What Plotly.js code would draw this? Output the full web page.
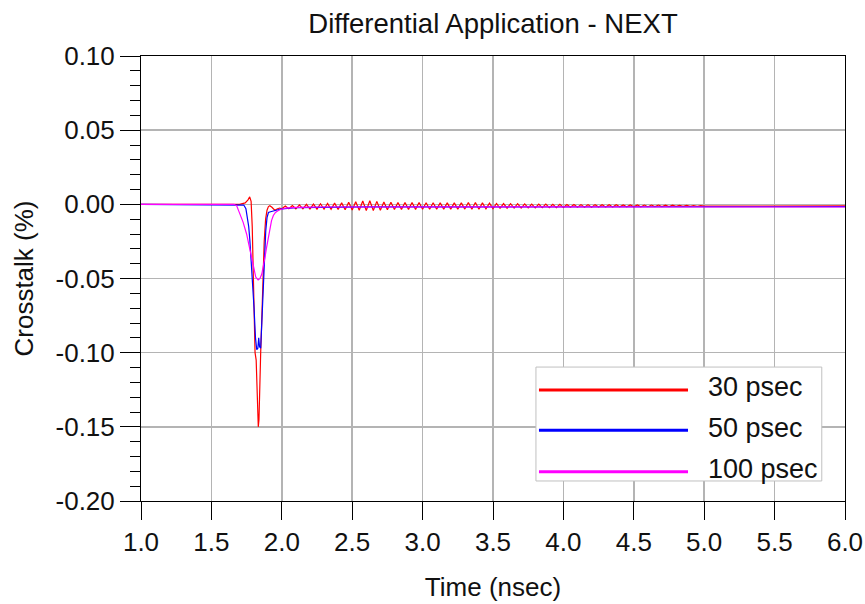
<!DOCTYPE html>
<html>
<head>
<meta charset="utf-8">
<script src="https://cdn.plot.ly/plotly-3.0.1.min.js"></script>
<style>html,body{margin:0;padding:0;background:#fff;}#chart{width:865px;height:604px;}</style>
</head>
<body>
<div id="chart"></div>
<script>
// ---- data ----
var seriesNames = ['30 psec', '50 psec', '100 psec'];
var seriesColors = ['#ff0000', '#0000ff', '#ff00ff'];

// 30 psec: pulse
var t30Pulse = [1.0, 1.70, 1.74, 1.76, 1.772, 1.782, 1.790, 1.797, 1.804, 1.810, 1.818, 1.826, 1.833, 1.838, 1.844, 1.850, 1.857, 1.866, 1.875, 1.885, 1.895, 1.905, 1.915, 1.930, 1.950, 1.970, 1.985];
var v30Pulse = [0, 0, 0.001, 0.003, 0.005, 0.002, -0.015, -0.05, -0.085, -0.10, -0.105, -0.125, -0.150, -0.145, -0.115, -0.10, -0.08, -0.05, -0.025, -0.01, -0.004, -0.0015, -0.001, -0.002, -0.004, -0.003, -0.0025];
// 30 psec: ringing after the pulse
var t30Ring = [2.000, 2.025, 2.050, 2.075, 2.100, 2.125, 2.150, 2.175, 2.200, 2.225, 2.250, 2.275, 2.300, 2.325, 2.350, 2.375, 2.400, 2.425, 2.450, 2.475,
  2.500, 2.525, 2.550, 2.575, 2.600, 2.625, 2.650, 2.675, 2.700, 2.725, 2.750, 2.775, 2.800, 2.825, 2.850, 2.875, 2.900, 2.925, 2.950, 2.975,
  3.000, 3.025, 3.050, 3.075, 3.100, 3.125, 3.150, 3.175, 3.200, 3.225, 3.250, 3.275, 3.300, 3.325, 3.350, 3.375, 3.400, 3.425, 3.450, 3.475,
  3.500, 3.525, 3.550, 3.575, 3.600, 3.625, 3.650, 3.675, 3.700, 3.725, 3.750, 3.775, 3.800, 3.825, 3.850, 3.875, 3.900, 3.925, 3.950, 3.975,
  4.000, 4.025, 4.050, 4.075, 4.100, 4.125, 4.150, 4.175, 4.200, 4.225, 4.250, 4.275, 4.300, 4.325, 4.350, 4.375, 4.400, 4.425, 4.450, 4.475,
  4.500, 4.525, 4.550, 4.575, 4.600, 4.625, 4.650, 4.675, 4.700, 4.725, 4.750, 4.775, 4.800, 4.825, 4.850, 4.875, 4.900, 4.925, 4.950, 4.975,
  5.000, 5.500, 6.000];
var v30Ring = [-0.0030, -0.0012, -0.0030, -0.0008, -0.0030, -0.0004, -0.0030, 0.0000, -0.0032, 0.0002, -0.0032, 0.0004, -0.0033, 0.0006, -0.0034, 0.0008, -0.0035, 0.0010, -0.0036, 0.0014,
  -0.0038, 0.0018, -0.0040, 0.0022, -0.0042, 0.0024, -0.0042, 0.0020, -0.0040, 0.0016, -0.0036, 0.0014, -0.0035, 0.0013, -0.0034, 0.0013, -0.0034, 0.0012, -0.0034, 0.0012,
  -0.0033, 0.0011, -0.0033, 0.0011, -0.0033, 0.0010, -0.0032, 0.0010, -0.0032, 0.0010, -0.0032, 0.0010, -0.0032, 0.0012, -0.0033, 0.0012, -0.0033, 0.0010, -0.0031, 0.0008,
  -0.0029, 0.0006, -0.0027, 0.0005, -0.0026, 0.0004, -0.0025, 0.0004, -0.0025, 0.0003, -0.0024, 0.0002, -0.0024, 0.0002, -0.0023, 0.0001, -0.0023, 0.0000, -0.0022, 0.0000,
  -0.0021, -0.0001, -0.0020, -0.0001, -0.0020, -0.0002, -0.0019, -0.0002, -0.0019, -0.0002, -0.0018, -0.0003, -0.0018, -0.0003, -0.0018, -0.0003, -0.0017, -0.0004, -0.0017, -0.0004,
  -0.0016, -0.0004, -0.0016, -0.0005, -0.0016, -0.0005, -0.0015, -0.0005, -0.0015, -0.0006, -0.0015, -0.0006, -0.0014, -0.0007, -0.0014, -0.0007, -0.0014, -0.0008, -0.0013, -0.0009,
  -0.0012, -0.0011, -0.0011];

// 50 psec
var t50 = [1.0, 1.66, 1.70, 1.73, 1.745, 1.756, 1.765, 1.773, 1.783, 1.793, 1.803, 1.813, 1.822, 1.830, 1.836, 1.842, 1.850, 1.858, 1.864, 1.870, 1.878, 1.886, 1.895, 1.905, 1.920, 1.940, 1.960, 1.980,
  2.0, 2.1, 2.3, 2.6, 3.0, 3.5, 4.0, 4.5, 5.0, 5.1, 5.2, 6.0];
var v50 = [0, 0, 0, -0.0005, -0.003, -0.0085, -0.015, -0.024, -0.038, -0.05, -0.07, -0.09, -0.098, -0.097, -0.090, -0.096, -0.097, -0.08, -0.065, -0.05, -0.032, -0.018, -0.009, -0.0055, -0.005, -0.0045, -0.004, -0.0035,
  -0.003, -0.0022, -0.0018, -0.0017, -0.0017, -0.0017, -0.0017, -0.0017, -0.0016, -0.0012, -0.0016, -0.0016];

// 100 psec
var t100 = [1.0, 1.66, 1.68, 1.70, 1.725, 1.75, 1.77, 1.785, 1.80, 1.815, 1.832, 1.845, 1.858, 1.87, 1.88, 1.892, 1.903, 1.915, 1.927, 1.94, 1.955, 1.97, 1.99,
  2.03, 2.1, 2.3, 2.6, 3.0, 4.0, 5.0, 6.0];
var v100 = [0, 0, -0.001, -0.006, -0.012, -0.02, -0.029, -0.036, -0.043, -0.049, -0.051, -0.050, -0.047, -0.042, -0.036, -0.029, -0.023, -0.016, -0.011, -0.0075, -0.0055, -0.0045, -0.0035,
  -0.0025, -0.002, -0.0018, -0.0017, -0.0017, -0.0017, -0.0018, -0.0018];

var xTickVals = [1.0, 1.5, 2.0, 2.5, 3.0, 3.5, 4.0, 4.5, 5.0, 5.5, 6.0];
var xTickText = ['1.0', '1.5', '2.0', '2.5', '3.0', '3.5', '4.0', '4.5', '5.0', '5.5', '6.0'];
var yTickVals = [-0.20, -0.15, -0.10, -0.05, 0.00, 0.05, 0.10];
var yTickText = ['-0.20', '-0.15', '-0.10', '-0.05', '0.00', '0.05', '0.10'];

var chartTitle = 'Differential Application - NEXT';
var xTitle = 'Time (nsec)';
var yTitle = 'Crosstalk (%)';

// ---- build ----
var FONT = 'Liberation Sans, Arial, Helvetica, sans-serif';
var xs = [t30Pulse.concat(t30Ring), t50, t100];
var ys = [v30Pulse.concat(v30Ring), v50, v100];

var traces = xs.map(function (x, i) {
  return {
    type: 'scatter', mode: 'lines', name: seriesNames[i],
    x: x, y: ys[i], showlegend: false,
    line: {color: seriesColors[i], width: 1.2}
  };
});

// hand-made legend (long line samples, like the reference)
var shapes = [{
  type: 'rect', xref: 'paper', yref: 'paper', layer: 'above',
  x0: 0.561, x1: 0.967, y0: 0.045, y1: 0.301,
  fillcolor: '#ffffff', line: {color: '#c0c0c0', width: 1}
}];
var annotations = [];
var legY = [0.2494, 0.1589, 0.0658];
seriesNames.forEach(function (name, i) {
  shapes.push({
    type: 'line', xref: 'paper', yref: 'paper', layer: 'above',
    x0: 0.5653, x1: 0.777, y0: legY[i], y1: legY[i],
    line: {color: seriesColors[i], width: 3}
  });
  annotations.push({
    xref: 'paper', yref: 'paper', x: 0.8026, y: legY[i] + 0.006,
    xanchor: 'left', yanchor: 'middle', showarrow: false,
    text: name, font: {family: FONT, size: 27, color: '#111'}
  });
});

var layout = {
  width: 865, height: 604,
  paper_bgcolor: '#ffffff', plot_bgcolor: '#ffffff',
  margin: {l: 141, r: 20, t: 56, b: 103, pad: 0},
  font: {family: FONT, size: 26, color: '#111'},
  title: {
    text: chartTitle, font: {family: FONT, size: 27.5, color: '#111'},
    xref: 'paper', x: 0.5, xanchor: 'center',
    yref: 'container', y: 0.962, yanchor: 'middle'
  },
  xaxis: {
    range: [1, 6], tickmode: 'array', tickvals: xTickVals, ticktext: xTickText,
    ticks: 'outside', ticklen: 18, tickwidth: 1, tickcolor: '#000',
    showgrid: true, gridcolor: '#b4b4b4', gridwidth: 1.5,
    showline: true, linecolor: '#000', linewidth: 1, mirror: true, zeroline: false,
    tickfont: {family: FONT, size: 26, color: '#111'},
    title: {text: xTitle, font: {family: FONT, size: 26, color: '#111'}, standoff: 21},
    automargin: false
  },
  yaxis: {
    range: [-0.2, 0.1], tickmode: 'array', tickvals: yTickVals, ticktext: yTickText,
    ticks: 'outside', ticklen: 20, tickwidth: 1, tickcolor: '#000',
    showgrid: true, gridcolor: '#b4b4b4', gridwidth: 1.5,
    showline: true, linecolor: '#000', linewidth: 1, mirror: true, zeroline: false,
    minor: {ticks: 'outside', ticklen: 10, tickwidth: 1, tickcolor: '#000', dtick: 0.01, tick0: 0, showgrid: false},
    tickfont: {family: FONT, size: 26, color: '#111'},
    title: {text: yTitle, font: {family: FONT, size: 26, color: '#111'}, standoff: 14},
    automargin: false
  },
  shapes: shapes,
  annotations: annotations,
  showlegend: false
};

Plotly.newPlot('chart', traces, layout, {displayModeBar: false, staticPlot: true});
</script>
</body>
</html>
